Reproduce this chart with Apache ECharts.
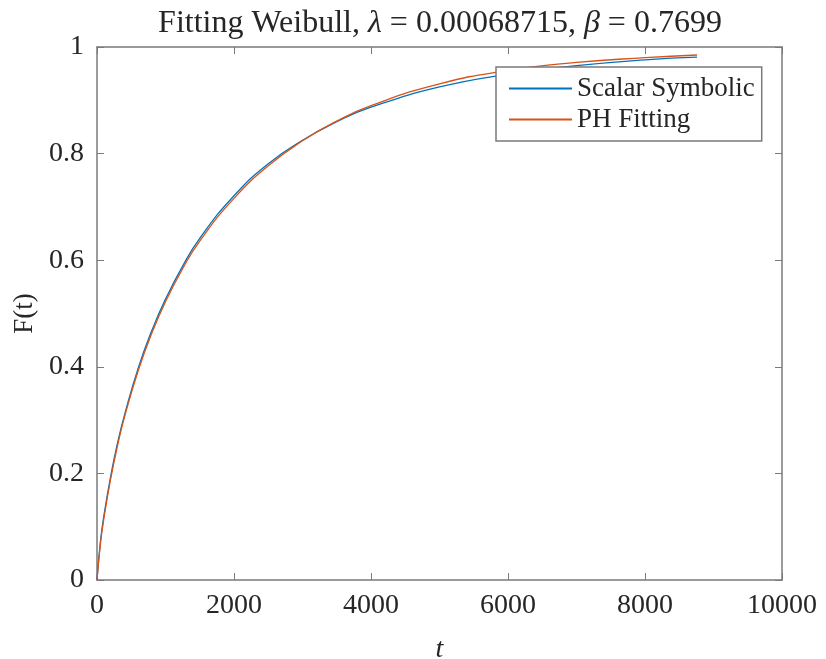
<!DOCTYPE html>
<html>
<head>
<meta charset="utf-8">
<script src="https://cdn.jsdelivr.net/npm/echarts@6/dist/echarts.min.js"></script>
<style>
  html, body { margin: 0; padding: 0; background: #fff; }
  #chart { width: 826px; height: 659px; }
</style>
</head>
<body>
<div id="chart"></div>
<script>
// t values (hours)
var tValues = [0, 50, 100, 200, 300, 400, 600, 800, 1000, 1250, 1500, 2000, 2500, 3000, 3500, 4000, 5000, 6000, 7000, 8000, 8760];
// Scalar Symbolic curve
var scalarValues = [0, 0.072, 0.120, 0.195, 0.257, 0.309, 0.397, 0.468, 0.527, 0.589, 0.641, 0.721, 0.781, 0.825, 0.860, 0.887, 0.925, 0.949, 0.965, 0.976, 0.981];
// PH Fitting curve
var phValues = [0, 0.068, 0.115, 0.190, 0.252, 0.305, 0.392, 0.463, 0.522, 0.584, 0.636, 0.716, 0.777, 0.824, 0.861, 0.890, 0.931, 0.956, 0.971, 0.980, 0.985];
var seriesNames = ['Scalar Symbolic', 'PH Fitting'];
var colors = ['#0072BD', '#D95319'];

function pairs(xs, ys) {
    var out = [];
    for (var i = 0; i < xs.length; i++) out.push([xs[i], ys[i]]);
    return out;
}

var font = '"Liberation Serif", "DejaVu Serif", serif';
var axisColor = '#7a7a7a';
var textColor = '#262626';

var chart = echarts.init(document.getElementById('chart'));
var option = {
    animation: false,
    backgroundColor: '#ffffff',
    color: colors,
    title: {
        text: '{n|Fitting Weibull, }{i|λ}{n| = 0.00068715, }{i|β}{n| = 0.7699}',
        left: 435,
        textAlign: 'center',
        top: 3,
        textStyle: {
            rich: {
                n: { fontFamily: font, fontSize: 32, fontWeight: 'normal', color: textColor },
                i: { fontFamily: font, fontSize: 32, fontWeight: 'normal', color: textColor, fontStyle: 'italic' }
            }
        }
    },
    legend: {
        left: 496,
        top: 67,
        orient: 'vertical',
        itemWidth: 63,
        itemHeight: 2,
        itemGap: 4,
        padding: [8, 7, 8, 13],
        backgroundColor: '#fff',
        borderColor: axisColor,
        borderWidth: 1.5,
        borderRadius: 0,
        icon: 'rect',
        textStyle: { fontFamily: font, fontSize: 27, color: textColor },
        data: seriesNames
    },
    grid: { left: 97, right: 44, top: 47, bottom: 79, outerBoundsMode: 'none', containLabel: false },
    xAxis: [{
        type: 'value',
        min: 0, max: 10000, interval: 2000,
        name: 't',
        nameLocation: 'middle',
        nameGap: 56,
        nameTextStyle: { fontFamily: font, fontSize: 28, fontStyle: 'italic', color: textColor },
        axisLine: { lineStyle: { color: axisColor, width: 1.5 } },
        axisTick: { inside: true, length: 7, lineStyle: { color: axisColor } },
        axisLabel: { fontFamily: font, fontSize: 28, color: textColor, margin: 12, formatter: function (v) { return String(v); } },
        splitLine: { show: false }
    }, {
        type: 'value',
        position: 'top',
        min: 0, max: 10000, interval: 2000,
        axisLine: { show: true, onZero: false, lineStyle: { color: axisColor, width: 1.5 } },
        axisTick: { inside: true, length: 7, lineStyle: { color: axisColor } },
        axisLabel: { show: false },
        splitLine: { show: false }
    }],
    yAxis: [{
        type: 'value',
        min: 0, max: 1, interval: 0.2,
        name: 'F(t)',
        nameLocation: 'middle',
        nameGap: 54,
        nameTextStyle: { fontFamily: font, fontSize: 27, color: textColor },
        axisLine: { show: true, lineStyle: { color: axisColor, width: 1.5 } },
        axisTick: { show: true, inside: true, length: 7, lineStyle: { color: axisColor } },
        axisLabel: { fontFamily: font, fontSize: 28, color: textColor, margin: 13 },
        splitLine: { show: false }
    }, {
        type: 'value',
        position: 'right',
        min: 0, max: 1, interval: 0.2,
        axisLine: { show: true, onZero: false, lineStyle: { color: axisColor, width: 1.5 } },
        axisTick: { show: true, inside: true, length: 7, lineStyle: { color: axisColor } },
        axisLabel: { show: false },
        splitLine: { show: false }
    }],
    series: [{
        name: seriesNames[0],
        type: 'line',
        smooth: true,
        showSymbol: false,
        lineStyle: { width: 1.3 },
        data: pairs(tValues, scalarValues)
    }, {
        name: seriesNames[1],
        type: 'line',
        smooth: true,
        showSymbol: false,
        lineStyle: { width: 1.3 },
        data: pairs(tValues, phValues)
    }]
};
chart.setOption(option);
window.addEventListener('resize', function () {
    chart.resize();
});
</script>
</body>
</html>
